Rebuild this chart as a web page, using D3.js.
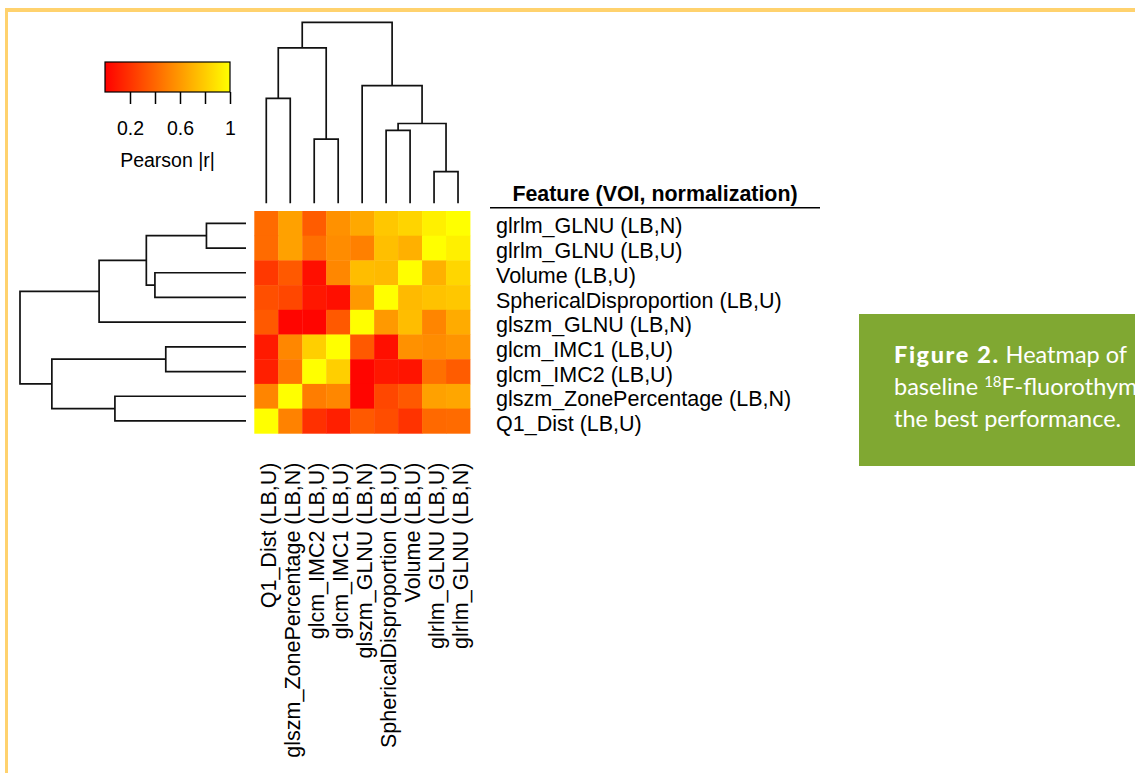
<!DOCTYPE html>
<html>
<head>
<meta charset="utf-8">
<script src="https://cdn.jsdelivr.net/npm/d3@7"></script>
<style>
  body { margin: 0; background: #fff; }
  svg { display: block; }
  text { font-family: "Liberation Sans", Arial, sans-serif; fill: #000; }
  text.caption { font-family: Lato, "Open Sans", sans-serif; fill: #fff; font-size: 23.5px; }
</style>
</head>
<body>
<script>

// features in column order (left to right); rows are the same list reversed
const features = [
    "Q1_Dist (LB,U)",
    "glszm_ZonePercentage (LB,N)",
    "glcm_IMC2 (LB,U)",
    "glcm_IMC1 (LB,U)",
    "glszm_GLNU (LB,N)",
    "SphericalDisproportion (LB,U)",
    "Volume (LB,U)",
    "glrlm_GLNU (LB,U)",
    "glrlm_GLNU (LB,N)"
]
const rowFeatures = features.slice().reverse()

// Pearson |r|, one array per row (top to bottom), columns in `features` order
const r_glrlmN  = [0.42, 0.63, 0.36, 0.57, 0.66, 0.78, 0.83, 0.94, 1.00]
const r_glrlmU  = [0.42, 0.63, 0.44, 0.55, 0.50, 0.75, 0.69, 1.00, 0.94]
const r_volume  = [0.22, 0.35, 0.06, 0.53, 0.74, 0.73, 1.00, 0.69, 0.84]
const r_spher   = [0.31, 0.28, 0.09, 0.06, 0.60, 1.00, 0.73, 0.76, 0.78]
const r_glszm   = [0.35, 0.02, 0.02, 0.35, 1.00, 0.60, 0.74, 0.52, 0.67]
const r_imc1    = [0.10, 0.53, 0.81, 1.00, 0.35, 0.06, 0.57, 0.55, 0.58]
const r_imc2    = [0.12, 0.47, 1.00, 0.81, 0.02, 0.09, 0.08, 0.44, 0.36]
const r_zone    = [0.52, 1.00, 0.49, 0.53, 0.02, 0.28, 0.35, 0.63, 0.65]
const r_q1      = [1.00, 0.51, 0.19, 0.12, 0.35, 0.30, 0.20, 0.41, 0.42]
const values = [r_glrlmN, r_glrlmU, r_volume, r_spher, r_glszm, r_imc1, r_imc2, r_zone, r_q1]

// hclust style merges: negative = leaf (1-based into features), positive = earlier merge
const mergeA = [-8, -3, -6, 3, -1, -5, 5, 7]
const mergeB = [-9, -4, -7, 1, -2, 4, 2, 6]
const mergeHeight = [0.175, 0.355, 0.403, 0.441, 0.58, 0.65, 0.859, 1.0]

const legendTicks = [0.2, 0.4, 0.6, 0.8, 1]
const legendLabels = [0.2, 0.6, 1]

const width = 1135, height = 773

const svg = d3.select("body").append("svg")
    .attr("width", width)
    .attr("height", height)

// page frame
svg.append("rect").attr("x", 5).attr("y", 8).attr("width", 3).attr("height", height - 8).attr("fill", "#ffd26e")
svg.append("rect").attr("x", 5).attr("y", 8).attr("width", width - 5).attr("height", 4).attr("fill", "#ffd26e")

const color = d3.scaleLinear().domain([0, 1]).range(["#ff0000", "#ffff00"])

const x = d3.scaleBand().domain(features).range([254.3, 470])
const y = d3.scaleBand().domain(rowFeatures).range([211, 433.3])

// heatmap cells
const cells = []
values.forEach((row, i) => row.forEach((v, j) => cells.push({ row: rowFeatures[i], col: features[j], v: v })))

svg.append("g").selectAll("rect")
    .data(cells)
    .enter().append("rect")
    .attr("x", d => x(d.col))
    .attr("y", d => y(d.row))
    .attr("width", x.bandwidth() + 0.4)
    .attr("height", y.bandwidth() + 0.4)
    .attr("fill", d => color(d.v))

// row labels
svg.append("g").selectAll("text")
    .data(rowFeatures)
    .enter().append("text")
    .attr("x", 496)
    .attr("y", d => y(d) + y.bandwidth() / 2)
    .attr("dy", "0.47em")
    .style("font-size", "21.5px")
    .text(d => d)

// column labels
svg.append("g").selectAll("text")
    .data(features)
    .enter().append("text")
    .attr("transform", d => "translate(" + (x(d) + x.bandwidth() / 2) + ",462.5) rotate(-90)")
    .attr("text-anchor", "end")
    .attr("dy", "0.47em")
    .style("font-size", "21.5px")
    .text(d => d)

// header
svg.append("text")
    .attr("x", 655)
    .attr("y", 201)
    .attr("text-anchor", "middle")
    .style("font-size", "21.4px")
    .style("font-weight", "bold")
    .text("Feature (VOI, normalization)")
svg.append("line")
    .attr("x1", 490).attr("x2", 820)
    .attr("y1", 207.7).attr("y2", 207.7)
    .attr("stroke", "#000").attr("stroke-width", 1.6)

// dendrograms
const buildNodes = (pos) => {
    let nodes = []
    const get = (k) => k < 0 ? { p: pos(features[-k - 1]), h: 0 } : nodes[k - 1]
    mergeA.forEach((a, i) => {
        let ca = get(a), cb = get(mergeB[i])
        nodes.push({ p: (ca.p + cb.p) / 2, h: mergeHeight[i], a: ca, b: cb })
    })
    return nodes
}

const hTop = d3.scaleLinear().domain([0, d3.max(mergeHeight)]).range([203.3, 22.3])
const hLeft = d3.scaleLinear().domain([0, d3.max(mergeHeight)]).range([246, 20])

const topNodes = buildNodes(f => x(f) + x.bandwidth() / 2)
svg.append("g").selectAll("path")
    .data(topNodes)
    .enter().append("path")
    .attr("d", n => "M" + n.a.p + "," + hTop(n.a.h) + "V" + hTop(n.h) + "H" + n.b.p + "V" + hTop(n.b.h))
    .attr("fill", "none").attr("stroke", "#111").attr("stroke-width", 1.7)

const leftNodes = buildNodes(f => y(f) + y.bandwidth() / 2)
svg.append("g").selectAll("path")
    .data(leftNodes)
    .enter().append("path")
    .attr("d", n => "M" + hLeft(n.a.h) + "," + n.a.p + "H" + hLeft(n.h) + "V" + n.b.p + "H" + hLeft(n.b.h))
    .attr("fill", "none").attr("stroke", "#111").attr("stroke-width", 1.7)

// colour key
const lx = d3.scaleLinear().domain([0, 1]).range([105, 230])
const grad = svg.append("defs").append("linearGradient").attr("id", "key")
d3.range(0, 1.01, 0.1).forEach(t => grad.append("stop").attr("offset", t).attr("stop-color", color(t)))

svg.append("rect")
    .attr("x", lx(0)).attr("y", 62)
    .attr("width", lx(1) - lx(0)).attr("height", 30)
    .attr("fill", "url(#key)")
    .attr("stroke", "#000").attr("stroke-width", 1.2)

const keyAxis = svg.append("g")
    .attr("transform", "translate(0,92)")
    .call(d3.axisBottom(lx).tickValues(legendTicks).tickSize(12).tickPadding(17)
        .tickFormat(d => legendLabels.includes(d) ? d3.format("")(d) : ""))
keyAxis.select(".domain").remove()
keyAxis.selectAll("line").attr("stroke", "#000").attr("stroke-width", 1.5)
keyAxis.selectAll("text").style("font-size", "19.5px").style("font-family", "Liberation Sans, Arial, sans-serif").attr("fill", "#000")

svg.append("text")
    .attr("x", 167.5).attr("y", 167)
    .attr("text-anchor", "middle")
    .style("font-size", "19.5px")
    .text("Pearson |r|")

// caption box (cut by page edge, as in the source figure)
svg.append("rect").attr("x", 859).attr("y", 314).attr("width", 300).attr("height", 152).attr("fill", "#80a832")
let line1 = svg.append("text").attr("class", "caption").attr("x", 894).attr("y", 363)
line1.append("tspan").style("font-weight", "900").style("letter-spacing", "1.6px").text("Figure 2.")
line1.append("tspan").text(" Heatmap of")
let line2 = svg.append("text").attr("class", "caption").attr("x", 894).attr("y", 395)
line2.append("tspan").text("baseline ")
line2.append("tspan").attr("dy", -8).style("font-size", "15px").text("18")
line2.append("tspan").attr("dy", 8).text("F-fluorothym")
svg.append("text").attr("class", "caption").attr("x", 894).attr("y", 427).text("the best performance.")

</script>
</body>
</html>
